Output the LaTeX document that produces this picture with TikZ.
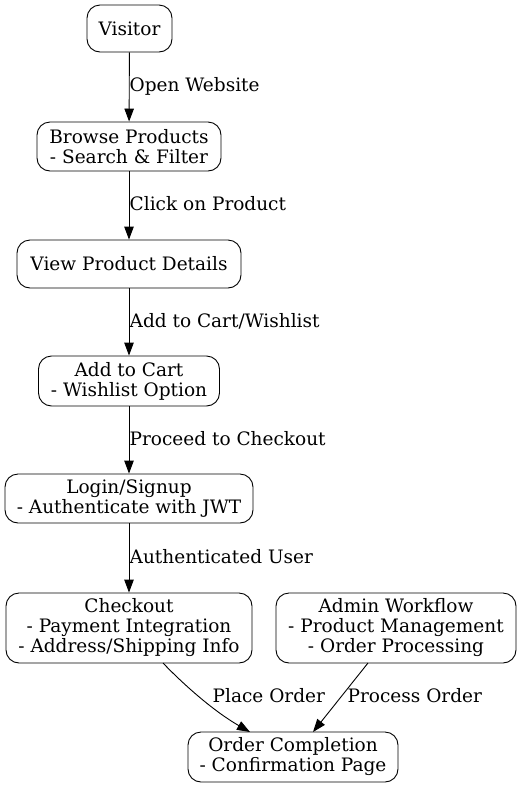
\documentclass[tikz,border=0pt]{standalone}
\usepackage{fontspec}
\setmainfont{DejaVu Serif}
\usetikzlibrary{arrows.meta}
\begin{document}
\begin{tikzpicture}[x=1pt,y=-1pt,
  box/.style={draw, rounded corners=13pt, line width=0.9pt, align=center, inner sep=0pt, font=\fontsize{18.5}{20}\selectfont},
  lbl/.style={inner sep=0.5pt, font=\fontsize{18.5}{20}\selectfont},
  arr/.style={line width=0.9pt, -{Triangle[length=13pt,width=9.5pt]}}]
\useasboundingbox (0,0) rectangle (521,788);
\node[box, minimum width=85pt, minimum height=47pt] (v) at (129.5,28.5) {Visitor};
\node[box, minimum width=184pt, minimum height=49pt] (b) at (129,146.5) {Browse Products\\- Search \& Filter};
\node[box, minimum width=224pt, minimum height=48pt] (d) at (129,264) {View Product Details};
\node[box, minimum width=181pt, minimum height=50pt] (c) at (129,381) {Add to Cart\\- Wishlist Option};
\node[box, minimum width=248pt, minimum height=49pt] (l) at (129,498.5) {Login/Signup\\- Authenticate with JWT};
\node[box, minimum width=246pt, minimum height=70pt] (k) at (129,628) {Checkout\\- Payment Integration\\- Address/Shipping Info};
\node[box, minimum width=240pt, minimum height=70pt] (a) at (396,628) {Admin Workflow\\- Product Management\\- Order Processing};
\node[box, minimum width=210pt, minimum height=50pt] (o) at (293,757) {Order Completion\\- Confirmation Page};
\draw[arr] (v) -- (b);
\draw[arr] (b) -- (d);
\draw[arr] (d) -- (c);
\draw[arr] (c) -- (l);
\draw[arr] (l) -- (k);
\coordinate (ks) at (163,663);
\coordinate (oe1) at (250,732);
\coordinate (as) at (368,663);
\coordinate (oe2) at (313,732);
\draw[arr] (ks) .. controls (185,686) and (215,712) .. (oe1);
\draw[arr] (as) -- (oe2);
\node[lbl, anchor=west] (l1) at (129,86) {Open Website};
\node[lbl, anchor=west] (l2) at (129,204) {Click on Product};
\node[lbl, anchor=west] (l3) at (129,321) {Add to Cart/Wishlist};
\node[lbl, anchor=west] (l4) at (129,439) {Proceed to Checkout};
\node[lbl, anchor=west] (l5) at (129,557) {Authenticated User};
\node[lbl, anchor=west] (l6) at (212,696) {Place Order};
\node[lbl, anchor=west] (l7) at (347,696) {Process Order};
\end{tikzpicture}
\end{document}
